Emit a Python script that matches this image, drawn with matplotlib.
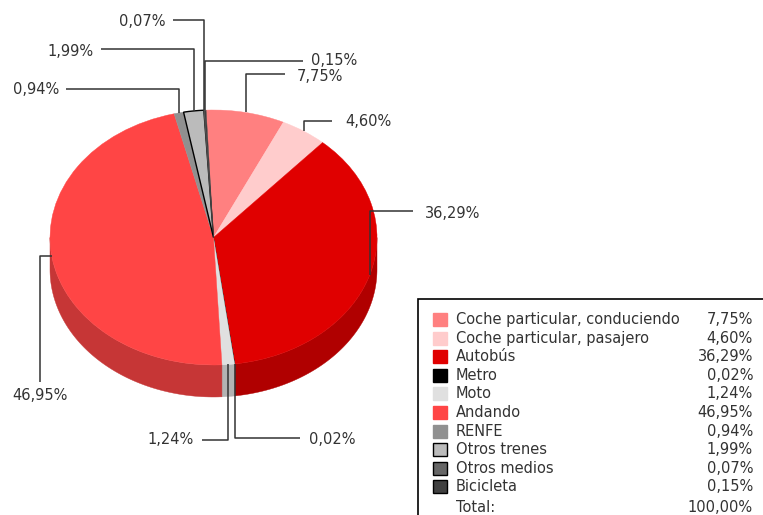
import numpy as np
import matplotlib
matplotlib.use("Agg")
import matplotlib.pyplot as plt
from matplotlib.patches import Wedge, Polygon, Rectangle
from matplotlib.transforms import Affine2D

categories = ["Coche particular, conduciendo", "Coche particular, pasajero", "Autobús",
              "Metro", "Moto", "Andando", "RENFE", "Otros trenes", "Otros medios", "Bicicleta"]
values = [7.75, 4.60, 36.29, 0.02, 1.24, 46.95, 0.94, 1.99, 0.07, 0.15]
value_labels = ["7,75%", "4,60%", "36,29%", "0,02%", "1,24%", "46,95%", "0,94%", "1,99%", "0,07%", "0,15%"]
total_label = "100,00%"

top_colors = ["#FF8080", "#FFCCCC", "#E00000", "#000000", "#E0E0E0",
              "#FF4545", "#909090", "#BBBBBB", "#666666", "#404040"]
side_colors = ["#CC6666", "#CCA3A3", "#B00000", "#000000", "#B3B3B3",
               "#C63636", "#737373", "#969696", "#525252", "#333333"]
legend_edges = [False, False, False, True, False, False, False, True, True, True]

W, H = 763, 515
fig = plt.figure(figsize=(W / 100, H / 100), dpi=100)
ax = fig.add_axes([0, 0, 1, 1])
ax.set_xlim(0, W)
ax.set_ylim(H, 0)
ax.axis("off")

CX, CY, RX, RY, DEPTH = 213.5, 237.5, 163.5, 127.5, 32
START = 92.6
tr = Affine2D().scale(RX, -RY).translate(CX, CY) + ax.transData

total = sum(values)
fracs = np.array(values) / total
cum = np.concatenate([[0], np.cumsum(fracs)])
theta2 = START - cum[:-1] * 360
theta1 = START - cum[1:] * 360

def ell(t):
    r = np.deg2rad(t)
    return CX + RX * np.cos(r), CY - RY * np.sin(r)

# side walls (front half only)
for i in range(len(values)):
    a, b = theta1[i], theta2[i]
    for k in (-360, 0, 360):
        lo, hi = max(a, 180 + k), min(b, 360 + k)
        if hi > lo:
            ts = np.linspace(lo, hi, 80)
            x, y = ell(ts)
            pts = np.concatenate([np.column_stack([x, y]),
                                  np.column_stack([x[::-1], y[::-1] + DEPTH])])
            ax.add_patch(Polygon(pts, closed=True, facecolor=side_colors[i],
                                 edgecolor=side_colors[i], lw=0.3))

# top faces
for i in range(len(values)):
    ec = "black" if categories[i] == "Otros trenes" else top_colors[i]
    lw = 1.0 if categories[i] == "Otros trenes" else 0.3
    ax.add_patch(Wedge((0, 0), 1, theta1[i], theta2[i], facecolor=top_colors[i],
                       edgecolor=ec, lw=lw, transform=tr))

# labels with elbow leader lines: (line y, line end x, text x, text y, ha)
layout = {
    "Coche particular, conduciendo": (74, 285, 297, 76.5, "left"),
    "Coche particular, pasajero": (121, 332, 345, 122, "left"),
    "Autobús": (211, 413, 425, 213, "left"),
    "Metro": (438, 300, 309, 439, "left"),
    "Moto": (440, 202, 194, 440, "right"),
    "RENFE": (89, 66, 59, 90, "right"),
    "Otros trenes": (49, 101, 94, 51, "right"),
    "Otros medios": (20, 173, 166, 21, "right"),
    "Bicicleta": (61, 303, 311, 60.5, "left"),
}
line_kw = dict(color="#333333", lw=1.1, solid_capstyle="butt")
txt_kw = dict(fontsize=10.5, color="#333333", va="center", family="DejaVu Sans")
for i, cat in enumerate(categories):
    mid = (theta1[i] + theta2[i]) / 2
    ax_, ay_ = ell(mid)
    if cat == "Andando":
        ax.plot([ax_, 40, 40], [ay_, ay_, 382], **line_kw)
        ax.text(40, 395, value_labels[i], ha="center", **txt_kw)
        continue
    ly, lx, tx, ty, ha = layout[cat]
    ax.plot([ax_, ax_, lx], [ay_, ly, ly], **line_kw)
    ax.text(tx, ty, value_labels[i], ha=ha, **txt_kw)

# legend box
ax.add_patch(Rectangle((418, 299), 400, 300, facecolor="white", edgecolor="black", lw=1.2))
row0, step = 319.5, 18.6
for i, cat in enumerate(categories):
    y = row0 + i * step
    ax.add_patch(Rectangle((432.5, y - 6.5), 14, 13, facecolor=top_colors[i],
                           edgecolor="black" if legend_edges[i] else top_colors[i], lw=1.0))
    ax.text(456, y, cat, ha="left", **txt_kw)
    ax.text(753, y, value_labels[i], ha="right", **txt_kw)
ax.text(456, 508, "Total:", ha="left", **txt_kw)
ax.text(753, 508, total_label, ha="right", **txt_kw)

fig.savefig("out.png", dpi=100)
